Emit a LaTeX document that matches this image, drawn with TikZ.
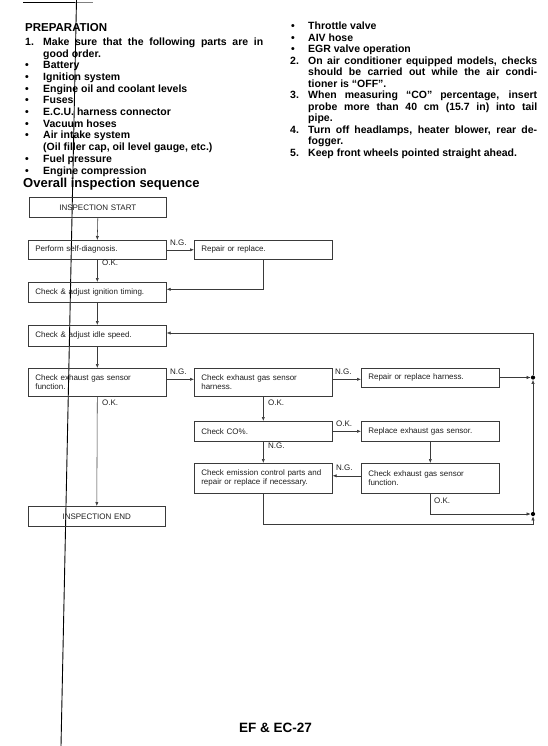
\documentclass[tikz,border=0pt]{standalone}
\usepackage{fontspec}
\setmainfont{Liberation Sans}
\usetikzlibrary{arrows.meta,calc}
\definecolor{linegray}{HTML}{3A3A3A}
\definecolor{fctext}{HTML}{1E1E1E}
\begin{document}
\begin{tikzpicture}[x=1pt,y=-1pt,
  hd/.style={font=\fontsize{10.5}{11.7}\selectfont\bfseries, inner sep=0pt, anchor=base west},
  big/.style={font=\fontsize{13}{15}\selectfont\bfseries, inner sep=0pt, anchor=base west},
  fcbox/.style={draw=linegray, line width=0.6pt, inner xsep=7pt, inner ysep=0pt,
    text width=124pt, align=left, anchor=north west, text=fctext,
    font=\fontsize{8}{9}\selectfont},
  fcend/.style={fcbox, align=center, text width=123pt},
  lbl/.style={font=\fontsize{8}{9}\selectfont, text=fctext, inner sep=0pt, anchor=base west},
  arr/.style={draw=linegray, line width=0.55pt, -{Latex[length=4pt,width=3.2pt]}},
  jdot/.style={circle, fill=black, inner sep=0pt, minimum size=4.2pt}]
\useasboundingbox (0,0) rectangle (548,746);

% page artefacts
\draw[line width=1.4pt] (23,2.6) -- (75,2.6);
\draw[line width=0.6pt, gray] (75,2.6) -- (93,2.6);
\draw[line width=0.9pt] (76.5,0) -- (61,746);

% ---------- left column ----------
\node[hd, font=\fontsize{11.5}{13}\selectfont\bfseries] (prep) at (25,31.2) {PREPARATION};
\node[hd] (n1) at (25,45.4) {1.};
\node[hd] (l1) at (43,45.4) {\makebox[220pt][s]{Make sure that the following parts are in}};
\node[hd] (l2) at (43,57.1) {good order.};
\node[hd] (b1) at (25,68.8) {\textbullet};
\node[hd] (l3) at (43,68.8) {Battery};
\node[hd] (b2) at (25,80.5) {\textbullet};
\node[hd] (l4) at (43,80.5) {Ignition system};
\node[hd] (b3) at (25,92.2) {\textbullet};
\node[hd] (l5) at (43,92.2) {Engine oil and coolant levels};
\node[hd] (b4) at (25,103.9) {\textbullet};
\node[hd] (l6) at (43,103.9) {Fuses};
\node[hd] (b5) at (25,115.6) {\textbullet};
\node[hd] (l7) at (43,115.6) {E.C.U. harness connector};
\node[hd] (b6) at (25,127.3) {\textbullet};
\node[hd] (l8) at (43,127.3) {Vacuum hoses};
\node[hd] (b7) at (25,139.0) {\textbullet};
\node[hd] (l9) at (43,139.0) {Air intake system};
\node[hd] (l10) at (43,150.7) {(Oil filler cap, oil level gauge, etc.)};
\node[hd] (b8) at (25,162.4) {\textbullet};
\node[hd] (l11) at (43,162.4) {Fuel pressure};
\node[hd] (b9) at (25,174.1) {\textbullet};
\node[hd] (l12) at (43,174.1) {Engine compression};
\node[big] (ovr) at (23,187.5) {Overall inspection sequence};

% ---------- right column ----------
\node[hd] (rb1) at (291,29.6) {\textbullet};
\node[hd] (r1) at (308,29.6) {Throttle valve};
\node[hd] (rb2) at (291,41.1) {\textbullet};
\node[hd] (r2) at (308,41.1) {AIV hose};
\node[hd] (rb3) at (291,52.6) {\textbullet};
\node[hd] (r3) at (308,52.6) {EGR valve operation};
\node[hd] (rn2) at (290,64.1) {2.};
\node[hd] (r4) at (308,64.1) {\makebox[229pt][s]{On air conditioner equipped models, checks}};
\node[hd] (r5) at (308,75.6) {\makebox[229pt][s]{should be carried out while the air condi-}};
\node[hd] (r6) at (308,87.1) {tioner is “OFF”.};
\node[hd] (rn3) at (290,98.6) {3.};
\node[hd] (r7) at (308,98.6) {\makebox[229pt][s]{When measuring “CO” percentage, insert}};
\node[hd] (r8) at (308,110.1) {\makebox[229pt][s]{probe more than 40 cm (15.7 in) into tail}};
\node[hd] (r9) at (308,121.6) {pipe.};
\node[hd] (rn4) at (290,133.1) {4.};
\node[hd] (r10) at (308,133.1) {\makebox[229pt][s]{Turn off headlamps, heater blower, rear de-}};
\node[hd] (r11) at (308,144.6) {fogger.};
\node[hd] (rn5) at (290,156.1) {5.};
\node[hd] (r12) at (308,156.1) {Keep front wheels pointed straight ahead.};

% ---------- flowchart boxes ----------
\node[fcend, minimum height=20pt] (start) at (29,197) {INSPECTION START};
\node[fcbox, minimum height=19pt] (self) at (28,240) {Perform self-diagnosis.};
\node[fcbox, minimum height=19pt] (repair) at (194,240) {Repair or replace.};
\node[fcbox, minimum height=20pt] (ign) at (28,282) {Check \& adjust ignition timing.};
\node[fcbox, minimum height=21pt] (idle) at (28,325) {Check \& adjust idle speed.};
\node[fcbox, minimum height=28pt] (exa) at (28,368) {Check exhaust gas sensor\\function.};
\node[fcbox, minimum height=28pt] (harn) at (194,368) {Check exhaust gas sensor\\harness.};
\node[fcbox, minimum height=19pt] (reph) at (361,368) {Repair or replace harness.};
\node[fcbox, minimum height=20pt] (co) at (194,421) {Check CO\%.};
\node[fcbox, minimum height=20pt] (repl) at (361,421) {Replace exhaust gas sensor.};
\node[fcbox, minimum height=30pt] (emis) at (194,463) {Check emission control parts and\\repair or replace if necessary.};
\node[fcbox, minimum height=30pt] (exb) at (361,463) {Check exhaust gas sensor\\function.};
\node[fcend, minimum height=20pt] (fin) at (28,506) {INSPECTION END};

% junction dots and corners
\node[jdot] (d1) at (533,377.5) {};
\node[jdot] (d2) at (533,514) {};
\coordinate (tr) at (533,333);
\coordinate (br) at (533,524);

% ---------- connectors ----------
\draw[arr] (start.south) -- (self.north);
\draw[arr] (self.east) -- (repair.west);
\draw[arr] (self.south) -- (ign.north);
\draw[arr] (repair.south) |- ([yshift=3pt]ign.east);
\draw[arr] (ign.south) -- (idle.north);
\draw[arr] (idle.south) -- (exa.north);
\draw[arr] ([yshift=3pt]exa.east) -- ([yshift=3pt]exa.east -| harn.west);
\draw[arr] ([yshift=3pt]harn.east) -- ([yshift=3pt]harn.east -| reph.west);
\draw[arr] (reph.east |- d1) -- (d1);
\draw[arr] (exa.south) -- (fin.north);
\draw[arr] (harn.south) -- (co.north);
\draw[arr] (co.east) -- (repl.west);
\draw[arr] (co.south) -- (emis.north);
\draw[arr] (repl.south) -- (exb.north);
\draw[arr] ([yshift=2.5pt]exb.west) -- ([yshift=2.5pt]exb.west -| emis.east);
\draw[arr] (exb.south) |- (d2);
\draw[arr] (emis.south) |- (br) -- (d2);
\draw[arr] (d2) -- (d1);
\draw[arr] (d1) -- (tr) -- (tr -| idle.east);

% ---------- connector labels ----------
\node[lbl] (ng1) at (170,245.8) {N.G.};
\node[lbl] (ok1) at (102,265.8) {O.K.};
\node[lbl] (ng2) at (170,374.8) {N.G.};
\node[lbl] (ng3) at (335,374.8) {N.G.};
\node[lbl] (ok2) at (102,405.8) {O.K.};
\node[lbl] (ok3) at (268,405.8) {O.K.};
\node[lbl] (ok4) at (336,426.3) {O.K.};
\node[lbl] (ng4) at (268,448.3) {N.G.};
\node[lbl] (ng5) at (336,470.8) {N.G.};
\node[lbl] (ok5) at (434,503.3) {O.K.};

% footer
\node[font=\fontsize{13.5}{15}\selectfont\bfseries, inner sep=0pt, anchor=base west] (foot) at (239,732.7) {EF \& EC-27};
\end{tikzpicture}
\end{document}
